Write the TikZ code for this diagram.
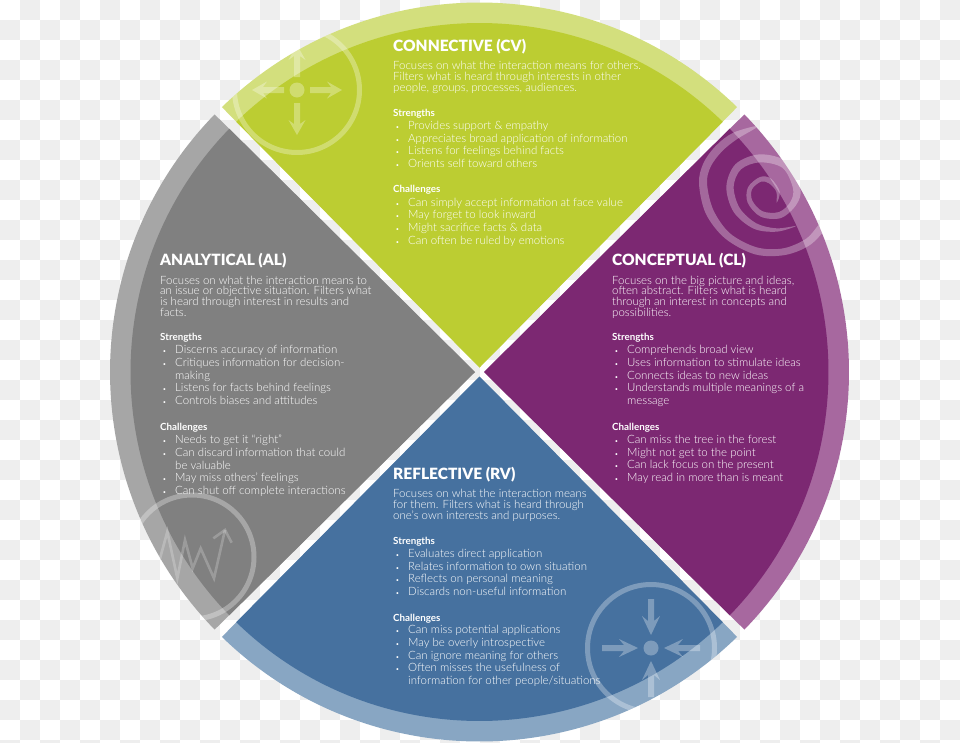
\documentclass[tikz,border=0pt]{standalone}
\usepackage{fontspec}
\setmainfont{Lato}
\newfontfamily\lightfont{Lato Light}
\newfontfamily\titlefont{Lato Black}
\definecolor{limeface}{HTML}{BCCD32}
\definecolor{limeband}{HTML}{D3DF7D}
\definecolor{plumface}{HTML}{7C2872}
\definecolor{plumband}{HTML}{A7689F}
\definecolor{greyface}{HTML}{808080}
\definecolor{greyband}{HTML}{A6A6A6}
\definecolor{blueface}{HTML}{46719F}
\definecolor{blueband}{HTML}{88A6C3}
\definecolor{checkgrey}{HTML}{EEEEEE}
\newcommand{\wedgeline}[1]{(0,-4.5) -- (225.8:#1) arc[start angle=225.8,end angle=314.2,radius=#1] -- cycle}
\newcommand{\bl}{\makebox[15pt][l]{\hspace{2.4pt}{\fontsize{6.5}{6.5}\selectfont •}}}
\newcommand{\cont}{\hspace*{15pt}}
\tikzset{
  hub/.style={shift={(479.5,372)},rotate=#1},
  iconpaint/.style={fill=white,opacity=.3},
  iconring/.style={draw=white,opacity=.3,line width=5pt},
  titletext/.style={anchor=base west,inner sep=0,text=white,font=\titlefont\fontsize{15.5}{15.5}\selectfont},
  introtext/.style={anchor=base west,inner sep=0,align=left,text=white,font=\lightfont\fontsize{11.45}{10.8}\selectfont},
  headtext/.style={anchor=base west,inner sep=0,text=white,font=\bfseries\fontsize{9.8}{10}\selectfont},
  listtext/.style={anchor=base west,inner sep=0,align=left,text=white,font=\lightfont\fontsize{11.45}{12.65}\selectfont},
}
\begin{document}
\begin{tikzpicture}[x=1pt,y=-1pt]
\useasboundingbox (0,0) rectangle (960,742);
% backdrop squares
\begin{scope}
\clip (0,0) rectangle (960,742);
\fill[white] (0,0) rectangle (960,742);
\foreach \col in {0,...,47} {
  \foreach \row in {0,...,37} {
    \pgfmathparse{int(mod(\col+\row,2))}
    \ifnum\pgfmathresult=1
      \fill[checkgrey] (20*\col,20*\row) rectangle ++(20,20);
    \fi
  }
}
\end{scope}
% wedges
\fill[limeband,hub=0] \wedgeline{369.5};
\fill[limeface,hub=0] \wedgeline{349};
\fill[greyband,hub=90] \wedgeline{369.5};
\fill[greyface,hub=90] \wedgeline{349};
\fill[blueband,hub=180] \wedgeline{369.5};
\fill[blueface,hub=180] \wedgeline{349};
\fill[plumband,hub=270] \wedgeline{369.5};
\fill[plumface,hub=270] \wedgeline{349};
% connective icon
\begin{scope}
\clip[hub=0] \wedgeline{369.5};
\draw[iconring] (297,90) circle (62.5);
\fill[iconpaint] (297,90) circle (7.5);
\foreach \turn in {0,90,180,270} {
  \fill[iconpaint,shift={(297,90)},rotate=\turn] (13,-3) -- (34,-3) -- (30,-8.5) -- (45,0) -- (30,8.5) -- (34,3) -- (13,3) -- cycle;
}
\end{scope}
% reflective icon
\begin{scope}
\clip[hub=180] \wedgeline{369.5};
\draw[iconring] (651,648) circle (63.5);
\fill[iconpaint] (651,648) circle (7.5);
\foreach \turn in {0,90,180,270} {
  \fill[iconpaint,shift={(651,648)},rotate=\turn] (49,-3) -- (27,-3) -- (32,-9) -- (13,0) -- (32,9) -- (27,3) -- (49,3) -- cycle;
}
\end{scope}
% analytical icon
\begin{scope}
\clip[hub=90] \wedgeline{369.5};
\draw[iconring] (192,557) circle (62);
\begin{scope}[shift={(150,510)},x=1pt/3,y=-1pt/3]
\draw[white,opacity=.22,line width=2.6pt,miter limit=10] (22,175) -- (52,65) -- (82,205) -- (105,90) -- (128,175) -- (152,115) -- (192,205) -- (225,60);
\draw[white,opacity=.22,line width=2.6pt] (190,85) -- (225,60) -- (245,98);
\end{scope}
\end{scope}
% conceptual icon
\begin{scope}
\clip[hub=270] \wedgeline{369.5};
\begin{scope}[shift={(695,120)},x=1pt/3,y=-1pt/3]
\fill[iconpaint] plot[smooth cycle,tension=.55] coordinates {(245,248) (254,215) (228,176) (195,171) (159,202) (158,248) (197,290) (258,294) (304,254) (316,205) (277,126) (195,103) (122,132) (94,200) (116,276) (176,326) (245,335) (303,318) (245,325) (184,310) (134,264) (116,200) (138,148) (195,127) (263,144) (294,205) (286,246) (252,276) (203,274) (172,242) (171,208) (198,185) (222,190) (244,215)};
\fill[iconpaint] plot[smooth cycle,tension=.55] coordinates {(190,18) (115,38) (62,78) (25,130) (12,190) (32,280) (90,355) (180,403) (270,405) (345,375) (395,320) (380,305) (335,355) (265,385) (185,382) (105,340) (55,270) (36,190) (47,140) (80,95) (125,58)};
\end{scope}
\end{scope}
% connective text
\node[titletext] (cvtitle) at (393,51) {CONNECTIVE (CV)};
\node[introtext] (cvintro) at (393,91.5) {Focuses on what the interaction means for others.\\Filters what is heard through interests in other\\people, groups, processes, audiences.};
\node[headtext] (cvstrong) at (393,116.5) {Strengths};
\node[listtext] (cvstronglist) at (393,167.5) {\bl Provides support \& empathy\\\bl Appreciates broad application of information\\\bl Listens for feelings behind facts\\\bl Orients self toward others};
\node[headtext] (cvweak) at (393,192.5) {Challenges};
\node[listtext] (cvweaklist) at (393,244) {\bl Can simply accept information at face value\\\bl May forget to look inward\\\bl Might sacrifice facts \& data\\\bl Can often be ruled by emotions};
% analytical text
\node[titletext] (altitle) at (160,265) {ANALYTICAL (AL)};
\node[introtext] (alintro) at (160,316.5) {Focuses on what the interaction means to\\an issue or objective situation. Filters what\\is heard through interest in results and\\facts.};
\node[headtext] (alstrong) at (160,340.5) {Strengths};
\node[listtext] (alstronglist) at (160,404.5) {\bl Discerns accuracy of information\\\bl Critiques information for decision-\\\cont making\\\bl Listens for facts behind feelings\\\bl Controls biases and attitudes};
\node[headtext] (alweak) at (160,430.5) {Challenges};
\node[listtext] (alweaklist) at (160,494.5) {\bl Needs to get it “right”\\\bl Can discard information that could\\\cont be valuable\\\bl May miss others’ feelings\\\bl Can shut off complete interactions};
% conceptual text
\node[titletext] (cltitle) at (612,265) {CONCEPTUAL (CL)};
\node[introtext] (clintro) at (612,316.5) {Focuses on the big picture and ideas,\\often abstract. Filters what is heard\\through an interest in concepts and\\possibilities.};
\node[headtext] (clstrong) at (612,340.5) {Strengths};
\node[listtext] (clstronglist) at (612,404.5) {\bl Comprehends broad view\\\bl Uses information to stimulate ideas\\\bl Connects ideas to new ideas\\\bl Understands multiple meanings of a\\\cont message};
\node[headtext] (clweak) at (612,430.5) {Challenges};
\node[listtext] (clweaklist) at (612,481.5) {\bl Can miss the tree in the forest\\\bl Might not get to the point\\\bl Can lack focus on the present\\\bl May read in more than is meant};
% reflective text
\node[titletext] (rvtitle) at (393,479) {REFLECTIVE (RV)};
\node[introtext] (rvintro) at (393,519.5) {Focuses on what the interaction means\\for them. Filters what is heard through\\one’s own interests and purposes.};
\node[headtext] (rvstrong) at (393,544.5) {Strengths};
\node[listtext] (rvstronglist) at (393,595.5) {\bl Evaluates direct application\\\bl Relates information to own situation\\\bl Reflects on personal meaning\\\bl Discards non-useful information};
\node[headtext] (rvweak) at (393,621.5) {Challenges};
\node[listtext] (rvweaklist) at (393,684.5) {\bl Can miss potential applications\\\bl May be overly introspective\\\bl Can ignore meaning for others\\\bl Often misses the usefulness of\\\cont information for other people/situations};
\end{tikzpicture}
\end{document}
